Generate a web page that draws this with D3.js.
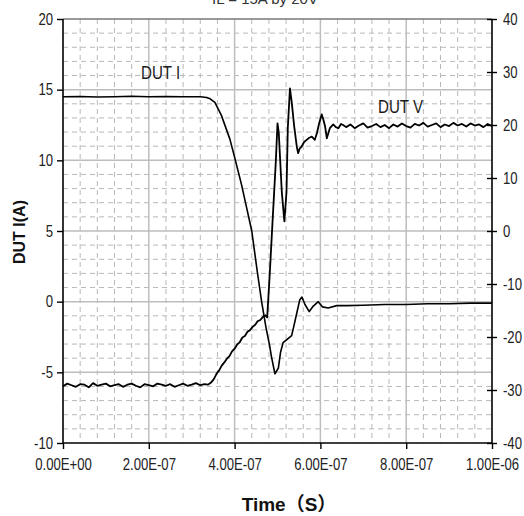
<!DOCTYPE html>
<html>
<head>
<meta charset="utf-8">
<script src="https://cdn.jsdelivr.net/npm/d3@7"></script>
<style>
  html, body { margin: 0; padding: 0; background: #fff; }
  svg { display: block; }
  .tick text { font-family: "Liberation Sans", Arial, sans-serif; font-size: 16px; fill: #222; }
</style>
</head>
<body>
<div id="chart"></div>
<script>
/* ─────────────────────────────────────────────────────────
   DATA  (time in ns, DUT I in A on left axis, DUT V in V on right axis)
───────────────────────────────────────────────────────── */
const xTicksNs = [0, 200, 400, 600, 800, 1000];
const leftTicks = [-10, -5, 0, 5, 10, 15, 20];
const rightTicks = [-40, -30, -20, -10, 0, 10, 20, 30, 40];

const dutI = [
  [0, 14.5], [40, 14.52], [80, 14.48], [120, 14.5], [160, 14.53], [200, 14.5],
  [240, 14.52], [280, 14.5], [320, 14.5], [335, 14.45], [343, 14.35], [354, 14.1],
  [369, 13.2], [389, 11.5], [401, 10.1], [416, 8.3], [428, 6.65], [440, 5.0],
  [453, 2.1], [463, 0.0], [473, -1.8], [481, -3.0], [486, -3.9], [494, -5.1],
  [502, -4.7], [507, -3.6], [513, -2.9], [521, -2.7], [533, -2.4], [538, -1.75],
  [545, -0.8], [552, 0.14], [557, 0.33], [564, -0.2], [574, -0.7], [583, -0.33],
  [595, 0.0], [605, -0.37], [618, -0.45], [638, -0.28], [661, -0.28], [700, -0.25],
  [750, -0.2], [800, -0.2], [850, -0.15], [900, -0.15], [950, -0.1], [1000, -0.1]
];

const dutV = [
  [0, -29.3], [10, -28.8], [20, -29.1], [30, -29.4], [40, -28.9], [50, -29.0],
  [60, -29.5], [70, -28.7], [80, -29.2], [90, -29.0], [100, -28.8], [110, -29.3],
  [120, -29.1], [130, -28.9], [140, -29.4], [150, -29.0], [160, -28.8], [170, -29.2],
  [180, -29.5], [190, -28.9], [200, -29.1], [210, -29.3], [220, -28.8], [230, -29.0],
  [240, -29.2], [250, -28.9], [260, -29.4], [270, -29.1], [280, -28.8], [290, -29.2],
  [300, -29.0], [310, -28.7], [320, -29.1], [330, -28.9], [338, -29.0], [345, -28.6],
  [352, -27.9], [358, -26.9], [364, -26.3], [370, -25.4], [376, -24.8], [382, -24.1],
  [388, -23.6], [394, -22.7], [400, -22.2], [406, -21.4], [412, -21.0], [418, -20.1],
  [424, -19.8], [430, -19.0], [436, -18.7], [442, -18.1], [448, -17.7], [454, -17.0],
  [460, -16.8], [466, -16.2], [472, -15.9], [476, -16.3], [482, -8.0], [488, 1.1],
  [496, 13.0], [500, 20.3], [503, 18.5], [510, 7.4], [516, 1.8], [521, 7.4],
  [524, 19.4], [529, 26.9], [533, 24.4], [539, 19.7], [545, 15.9], [548, 14.7],
  [552, 15.6], [556, 15.9], [562, 16.8], [568, 17.2], [574, 17.6], [580, 17.8],
  [587, 17.2], [592, 18.5], [597, 20.3], [603, 22.0], [607, 21.0], [611, 19.7],
  [615, 17.5], [622, 19.4], [630, 20.1], [636, 19.6], [642, 19.4], [648, 20.2],
  [653, 20.0], [660, 19.6], [670, 20.1], [680, 19.4], [690, 19.9], [700, 20.3],
  [710, 19.5], [720, 19.8], [730, 20.2], [740, 19.6], [750, 20.0], [760, 19.4],
  [770, 20.1], [780, 19.7], [790, 20.3], [800, 19.8], [810, 19.5], [820, 20.2],
  [830, 19.9], [840, 20.4], [850, 19.7], [860, 20.0], [870, 20.3], [880, 19.6],
  [890, 20.1], [900, 19.8], [910, 20.4], [920, 19.9], [930, 20.2], [940, 19.7],
  [950, 20.3], [960, 19.9], [970, 20.1], [980, 19.6], [990, 20.2], [1000, 19.8]
];

/* ─────────────────────────────────────────────────────────
   HELPERS
───────────────────────────────────────────────────────── */
// squeeze text horizontally (narrow-font look) without changing its height
function condense(sel, k) {
  sel.each(function () {
    const w = this.getComputedTextLength();
    d3.select(this).attr("textLength", w * k).attr("lengthAdjust", "spacingAndGlyphs");
  });
}

/* ─────────────────────────────────────────────────────────
   CHART
───────────────────────────────────────────────────────── */
function buildChart() {
  const W = 524, H = 516;
  const L = 63, R = 492, T = 19, B = 443;

  const x = d3.scaleLinear().domain([0, 1000]).range([L, R]);
  const yI = d3.scaleLinear().domain([-10, 20]).range([B, T]);
  const yV = d3.scaleLinear().domain([-40, 40]).range([B, T]);

  const svg = d3.select("#chart").append("svg")
    .attr("width", W).attr("height", H);

  // caption, cut off by the top edge as in the source image
  svg.append("text")
    .attr("x", 265).attr("y", 4)
    .attr("text-anchor", "middle")
    .attr("font-family", "Liberation Sans, sans-serif").attr("font-size", "15px")
    .attr("fill", "#333")
    .text("IL = 15A by 20V");

  // minor dashed grid
  const minorX = d3.range(40, 1000, 40).filter(d => d % 200 !== 0);
  const minorY = d3.range(-9, 20, 1).filter(d => d % 5 !== 0);
  const grid = svg.append("g");
  grid.selectAll(".mx").data(minorX).join("line")
    .attr("x1", d => x(d)).attr("x2", d => x(d))
    .attr("y1", T).attr("y2", B)
    .attr("stroke", "#b8b8b8").attr("stroke-width", 1).attr("stroke-dasharray", "5,4");
  grid.selectAll(".my").data(minorY).join("line")
    .attr("x1", L).attr("x2", R)
    .attr("y1", d => yI(d)).attr("y2", d => yI(d))
    .attr("stroke", "#b8b8b8").attr("stroke-width", 1).attr("stroke-dasharray", "5,4");

  // major solid grid
  grid.selectAll(".Mx").data(xTicksNs.slice(1, -1)).join("line")
    .attr("x1", d => x(d)).attr("x2", d => x(d))
    .attr("y1", T).attr("y2", B)
    .attr("stroke", "#bdbdbd").attr("stroke-width", 1.5);
  grid.selectAll(".My").data(leftTicks.slice(1, -1)).join("line")
    .attr("x1", L).attr("x2", R)
    .attr("y1", d => yI(d)).attr("y2", d => yI(d))
    .attr("stroke", "#bdbdbd").attr("stroke-width", 1.5);
  grid.append("line")
    .attr("x1", L).attr("x2", R).attr("y1", T).attr("y2", T)
    .attr("stroke", "#777").attr("stroke-width", 1.5);

  // curves
  const lineI = d3.line().x(d => x(d[0])).y(d => yI(d[1]));
  const lineV = d3.line().x(d => x(d[0])).y(d => yV(d[1]));
  svg.append("path").datum(dutI)
    .attr("fill", "none").attr("stroke", "#000").attr("stroke-width", 1.6)
    .attr("stroke-linejoin", "round").attr("d", lineI);
  svg.append("path").datum(dutV)
    .attr("fill", "none").attr("stroke", "#000").attr("stroke-width", 1.8)
    .attr("stroke-linejoin", "round").attr("d", lineV);

  // axes (plain hyphen for negatives, like the source)
  const fmtT = d => (d * 1e-9).toExponential(2).toUpperCase()
    .replace(/E([+-])(\d)$/, "E$10$2");
  const fmtN = d => String(d);

  const ax = svg.append("g").attr("transform", `translate(0,${B})`)
    .call(d3.axisBottom(x).tickValues(xTicksNs).tickSize(6).tickPadding(10).tickFormat(fmtT));
  const ayl = svg.append("g").attr("transform", `translate(${L},0)`)
    .call(d3.axisLeft(yI).tickValues(leftTicks).tickSize(6).tickPadding(4).tickFormat(fmtN));
  const ayr = svg.append("g").attr("transform", `translate(${R},0)`)
    .call(d3.axisRight(yV).tickValues(rightTicks).tickSize(5).tickPadding(6).tickFormat(fmtN));
  ayr.selectAll(".tick line").attr("x1", -5);

  [ax, ayl, ayr].forEach(g => {
    g.select(".domain").attr("stroke", "#000").attr("stroke-width", 1.6);
    g.selectAll(".tick line").attr("stroke", "#000").attr("stroke-width", 1.4);
    condense(g.selectAll(".tick text"), 0.82);
  });
  ax.selectAll(".domain").attr("d", `M${L},0H${R}`);
  ayl.selectAll(".domain").attr("d", `M0,${T}V${B}`);
  ayr.selectAll(".domain").attr("d", `M0,${T}V${B}`);

  // axis titles
  svg.append("text")
    .attr("transform", "translate(25,232) rotate(-90)")
    .attr("text-anchor", "middle")
    .attr("font-family", "Liberation Sans, sans-serif").attr("font-size", "16px")
    .attr("font-weight", "bold").attr("fill", "#111")
    .text("DUT I(A)");
  svg.append("text")
    .attr("x", 289).attr("y", 511)
    .attr("text-anchor", "middle")
    .attr("font-family", "Liberation Sans, 'Noto Sans CJK SC', sans-serif").attr("font-size", "19px")
    .attr("font-weight", "bold").attr("fill", "#111")
    .text("Time（S）");

  // series labels
  const lab = [
    { text: "DUT I", x: 141, y: 79 },
    { text: "DUT V", x: 378, y: 113 }
  ];
  const labels = svg.selectAll(".series-label").data(lab).join("text")
    .attr("class", "series-label")
    .attr("x", d => d.x).attr("y", d => d.y)
    .attr("font-family", "Liberation Sans, sans-serif")
    .attr("font-size", "18px").attr("fill", "#1a1a1a")
    .text(d => d.text);
  condense(labels, 0.84);
}

buildChart();
</script>
</body>
</html>
